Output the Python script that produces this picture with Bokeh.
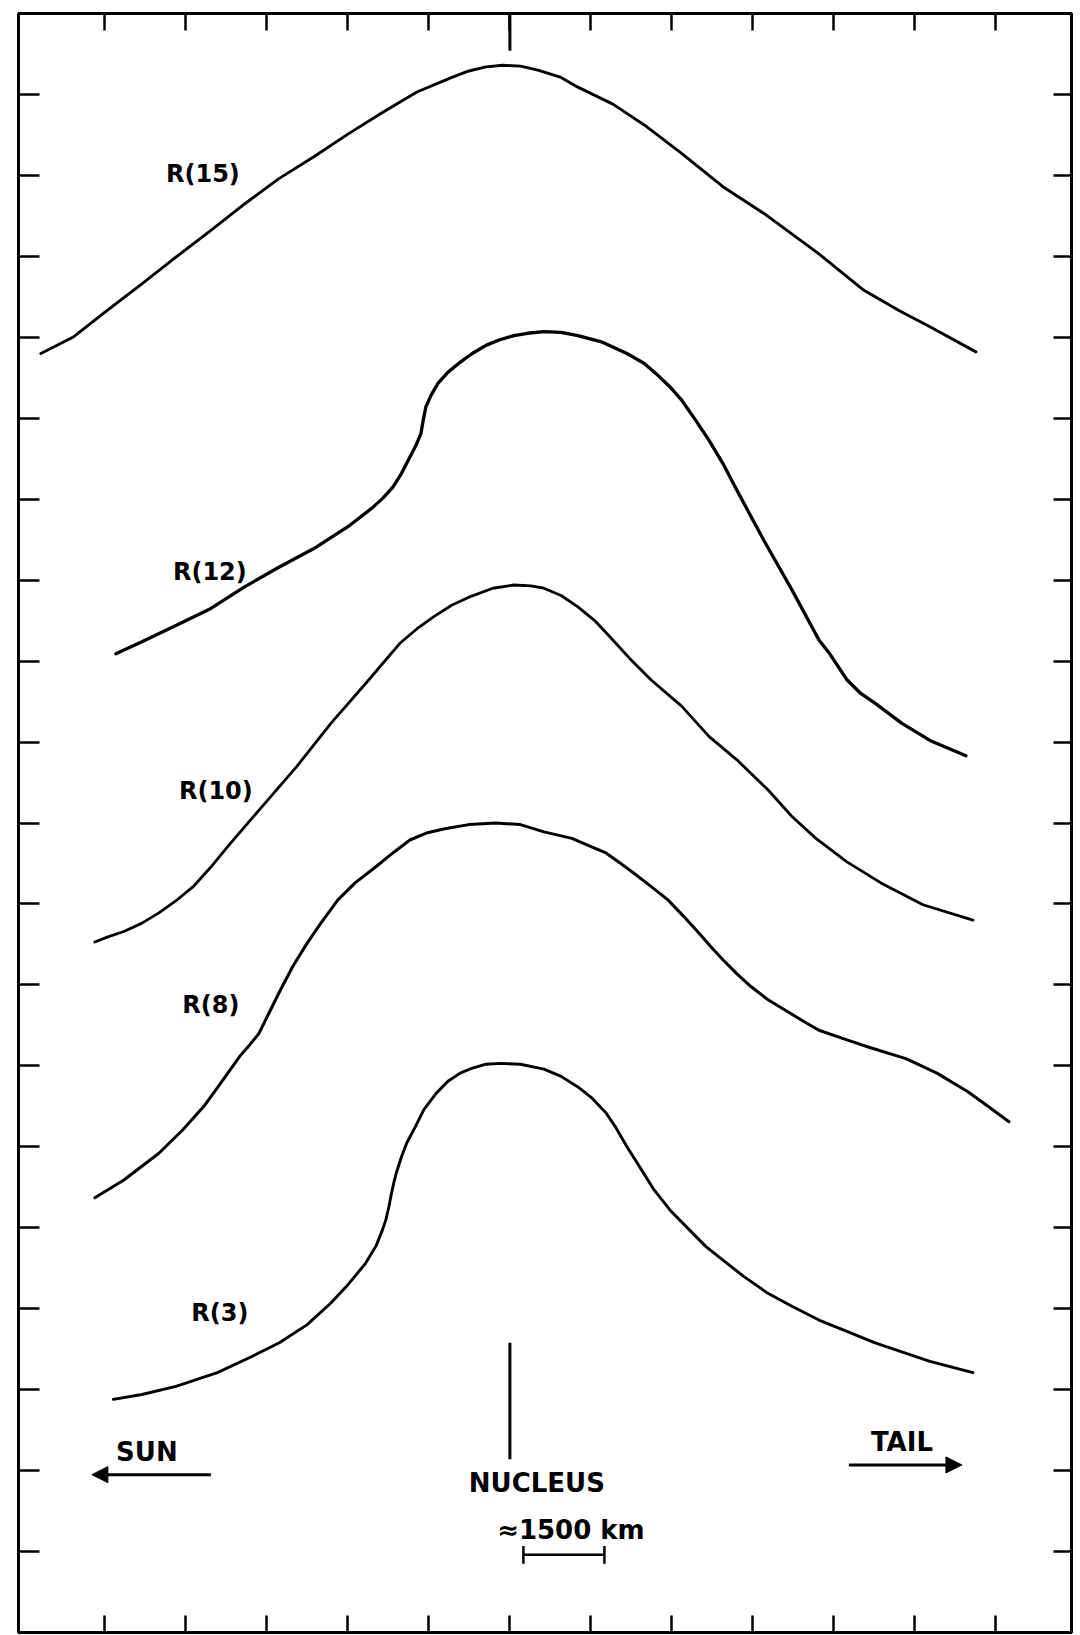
from bokeh.plotting import figure
from bokeh.models import Range1d, LinearAxis, FixedTicker, Arrow, NormalHead, CustomJSTickFormatter
from bokeh.embed import file_html
from bokeh.resources import INLINE
from bokeh.core.properties import value

# x: distance along the slit in km (nucleus at 0, sunward negative, tailward positive)
# y: relative intensity (arbitrary units, profiles offset vertically)
r15_x = [-8686, -8093, -7463, -6815, -6185, -5537, -4907, -4278, -3630, -3000,
         -2352, -1722, -1074, -761, -444, -130, 194, 519, 948, 1259,
         1907, 2537, 3185, 3945, 4704, 5723, 6556, 7204, 7778, 8630]
r15_y = [15.80, 16.00, 16.33, 16.66, 16.99, 17.32, 17.65, 17.96, 18.23, 18.51,
         18.78, 19.03, 19.21, 19.29, 19.34, 19.36, 19.35, 19.30, 19.21, 19.09,
         18.88, 18.60, 18.27, 17.86, 17.53, 17.03, 16.58, 16.33, 16.13, 15.82]

r12_x = [-7297, -6815, -6185, -5537, -4907, -4278, -3630, -3000, -2556, -2356,
         -2167, -2006, -1852, -1750, -1648, -1604, -1556, -1463, -1333, -1145,
         -944, -698, -444, -188, 74, 323, 630, 948, 1259, 1713,
         2167, 2482, 2741, 2989, 3185, 3435, 3685, 3945, 4204, 4704,
         5223, 5723, 5923, 6241, 6497, 6760, 7260, 7778, 8445]
r12_y = [12.09, 12.24, 12.44, 12.65, 12.92, 13.16, 13.39, 13.66, 13.89, 14.01,
         14.15, 14.32, 14.52, 14.65, 14.81, 14.98, 15.14, 15.28, 15.43, 15.57,
         15.68, 15.80, 15.90, 15.97, 16.02, 16.05, 16.07, 16.06, 16.02, 15.94,
         15.80, 15.68, 15.53, 15.37, 15.22, 14.98, 14.73, 14.44, 14.11, 13.49,
         12.88, 12.26, 12.09, 11.77, 11.60, 11.48, 11.23, 11.02, 10.83]

r10_x = [-7686, -7458, -7149, -6821, -6500, -6182, -5871, -5545, -5223, -4593,
         -3945, -3315, -2611, -2356, -2037, -1719, -1408, -1080, -759, -315,
         74, 387, 630, 948, 1259, 1587, 1907, 2222, 2611, 3185,
         3685, 4204, 4778, 5223, 5667, 6241, 6871, 7649, 8575]
r10_y = [8.53, 8.59, 8.66, 8.76, 8.89, 9.04, 9.21, 9.45, 9.71, 10.20,
         10.70, 11.23, 11.77, 11.97, 12.22, 12.40, 12.55, 12.69, 12.79, 12.90,
         12.94, 12.93, 12.90, 12.81, 12.67, 12.49, 12.26, 12.03, 11.77, 11.44,
         11.07, 10.78, 10.41, 10.08, 9.81, 9.52, 9.26, 8.99, 8.80]

r8_x = [-7686, -7149, -6500, -6056, -5667, -5352, -5000, -4843, -4648, -4463,
        -4278, -4019, -3760, -3504, -3185, -2867, -2482, -2167, -1852, -1526,
        -1204, -761, -259, 194, 630, 1148, 1459, 1778, 2033, 2296,
        2606, 2926, 3213, 3500, 3722, 3945, 4200, 4463, 4774, 5093,
        5413, 5723, 6241, 6649, 7334, 7908, 8482, 8853, 9242]
r8_y = [5.37, 5.59, 5.92, 6.21, 6.50, 6.79, 7.12, 7.24, 7.40, 7.65,
        7.90, 8.23, 8.51, 8.76, 9.05, 9.26, 9.46, 9.63, 9.79, 9.88,
        9.93, 9.98, 10.00, 9.98, 9.89, 9.81, 9.72, 9.63, 9.51, 9.38,
        9.22, 9.05, 8.85, 8.64, 8.47, 8.31, 8.14, 7.98, 7.82, 7.69,
        7.56, 7.44, 7.32, 7.23, 7.09, 6.91, 6.68, 6.50, 6.31]

r3_x = [-7343, -6815, -6185, -5417, -4778, -4269, -3760, -3315, -2995, -2871,
        -2674, -2482, -2356, -2296, -2241, -2204, -2152, -2102, -2006, -1908,
        -1750, -1593, -1367, -1148, -920, -704, -444, -185, 194, 630,
        948, 1259, 1522, 1778, 1969, 2167, 2415, 2667, 2989, 3315,
        3626, 3945, 4328, 4778, 5223, 5723, 6241, 6750, 7778, 8575]
r3_y = [2.88, 2.94, 3.04, 3.21, 3.41, 3.58, 3.80, 4.07, 4.30, 4.40,
        4.56, 4.77, 4.98, 5.10, 5.26, 5.39, 5.55, 5.68, 5.88, 6.05,
        6.25, 6.46, 6.66, 6.81, 6.91, 6.97, 7.02, 7.03, 7.02, 6.96,
        6.87, 6.74, 6.60, 6.42, 6.23, 6.00, 5.74, 5.47, 5.20, 4.98,
        4.77, 4.60, 4.40, 4.19, 4.03, 3.86, 3.72, 3.58, 3.35, 3.21]

labels = ["R(15)", "R(12)", "R(10)", "R(8)", "R(3)"]
label_x = [-5685, -5556, -5445, -5537, -5371]
label_y = [18.02, 13.10, 10.40, 7.75, 3.95]

x_ticks = [-7500, -6000, -4500, -3000, -1500, 0, 1500, 3000, 4500, 6000, 7500, 9000]
y_ticks = list(range(1, 20))

notes = ["SUN", "TAIL", "NUCLEUS", "\u22481500 km"]
notes_x = [-6722, 7260, 500, 1130]
notes_y = [2.23, 2.35, 1.85, 1.27]

nucleus_x = 0
scale_start = 250
scale_len = 1500

p = figure(width=1080, height=1635, x_range=Range1d(-9100, 10400), y_range=Range1d(0, 20),
           output_backend="svg", toolbar_location=None,
           min_border_left=18, min_border_right=9, min_border_top=13, min_border_bottom=3)
p.background_fill_color = "white"
p.border_fill_color = "white"
p.grid.visible = False
p.outline_line_color = "black"
p.outline_line_width = 3

p.add_layout(LinearAxis(), "above")
p.add_layout(LinearAxis(), "right")

blank = CustomJSTickFormatter(code="return ''")
for ax, ticks, tlen in [(p.below[0], x_ticks, 17), (p.above[0], x_ticks, 17),
                        (p.left[0], y_ticks, 21), (p.right[0], y_ticks, 18)]:
    ax.ticker = FixedTicker(ticks=ticks)
    ax.formatter = blank
    ax.major_tick_in = tlen
    ax.major_tick_out = 0
    ax.minor_tick_in = 0
    ax.minor_tick_out = 0
    ax.major_label_standoff = 0
    ax.major_label_text_font_size = "0px"
    ax.axis_line_color = None
    ax.major_tick_line_color = "black"
    ax.major_tick_line_width = 2.5

# longer tick marking the nucleus at the top edge
p.segment(x0=[nucleus_x], y0=[20], x1=[nucleus_x], y1=[19.54], line_color="black", line_width=3)

for xs, ys, lw in [(r15_x, r15_y, 2.9), (r12_x, r12_y, 3.3), (r10_x, r10_y, 2.8),
                   (r8_x, r8_y, 3.0), (r3_x, r3_y, 2.9)]:
    p.line(xs, ys, line_color="black", line_width=lw, line_join="round", line_cap="round")

p.text(x=label_x, y=label_y, text=labels, text_font=value("DejaVu Sans"), text_font_style="bold",
       text_font_size="24px", text_align="center", text_baseline="middle", text_color="black")
p.text(x=notes_x, y=notes_y, text=notes, text_font=value("DejaVu Sans"), text_font_style="bold",
       text_font_size="26px", text_align="center", text_baseline="middle", text_color="black")

# arrows
p.add_layout(Arrow(end=NormalHead(size=16, fill_color="black", line_color="black"),
                   x_start=-5537, y_start=1.95, x_end=-7741, y_end=1.95, line_width=3, line_color="black"))
p.add_layout(Arrow(end=NormalHead(size=16, fill_color="black", line_color="black"),
                   x_start=6278, y_start=2.07, x_end=8371, y_end=2.07, line_width=3, line_color="black"))

# nucleus marker
p.segment(x0=[nucleus_x], y0=[3.58], x1=[nucleus_x], y1=[2.14], line_color="black", line_width=3)

# scale bar (1500 km)
p.segment(x0=[scale_start], y0=[0.96], x1=[scale_start + scale_len], y1=[0.96], line_color="black", line_width=2.5)
p.segment(x0=[scale_start, scale_start + scale_len], y0=[0.85, 0.85],
          x1=[scale_start, scale_start + scale_len], y1=[1.07, 1.07], line_color="black", line_width=2.5)

open("out.html", "w").write(file_html(p, INLINE))
